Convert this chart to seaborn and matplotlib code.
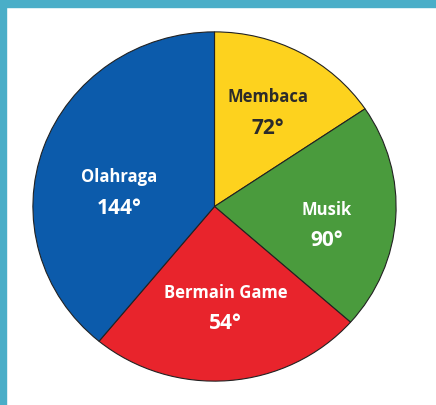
import matplotlib
matplotlib.use('Agg')
import matplotlib.pyplot as plt
import seaborn as sns
from matplotlib.patches import Rectangle

# data
labels = ['Membaca', 'Musik', 'Bermain Game', 'Olahraga']
degree_labels = [72, 90, 54, 144]          # values printed on the chart
wedge_sizes = [56, 75.5, 88, 140.5]         # slice sizes as drawn in the picture
colors = ['#fdd21e', '#4a9b3d', '#e8242c', '#0c5bab']
text_colors = ['#2b2b2b', 'white', 'white', 'white']
label_pos = [(0.296, 0.630), (0.619, -0.014), (0.06, -0.487), (-0.526, 0.174)]

sns.set_theme(style='white')
plt.rcParams['font.family'] = ['Open Sans', 'DejaVu Sans']

fig = plt.figure(figsize=(4.36, 4.06), dpi=100)
fig.patch.set_facecolor('white')
# teal frame on top and left
fig.patches.append(Rectangle((0, 1 - 8 / 406), 1, 8 / 406, transform=fig.transFigure,
                             color='#4aaec8', zorder=0))
fig.patches.append(Rectangle((0, 0), 6 / 436, 1, transform=fig.transFigure,
                             color='#4aaec8', zorder=0))

ax = fig.add_axes([32 / 436, 23 / 406, 365 / 436, 351 / 406])
ax.pie(wedge_sizes, colors=colors, startangle=90, counterclock=False,
       wedgeprops={'edgecolor': '#222222', 'linewidth': 0.8})
for lab, d, c, (x, y) in zip(labels, degree_labels, text_colors, label_pos):
    ax.text(x, y, lab, color=c, ha='center', va='center', fontsize=12, fontweight='bold')
    ax.text(x, y - 0.177, f'{d}°', color=c, ha='center', va='center', fontsize=15, fontweight='bold')
ax.set_aspect('auto')
ax.set_xlim(-1.005, 1.005)
ax.set_ylim(-1.005, 1.005)
ax.axis('off')

plt.savefig('out.png', dpi=100)
